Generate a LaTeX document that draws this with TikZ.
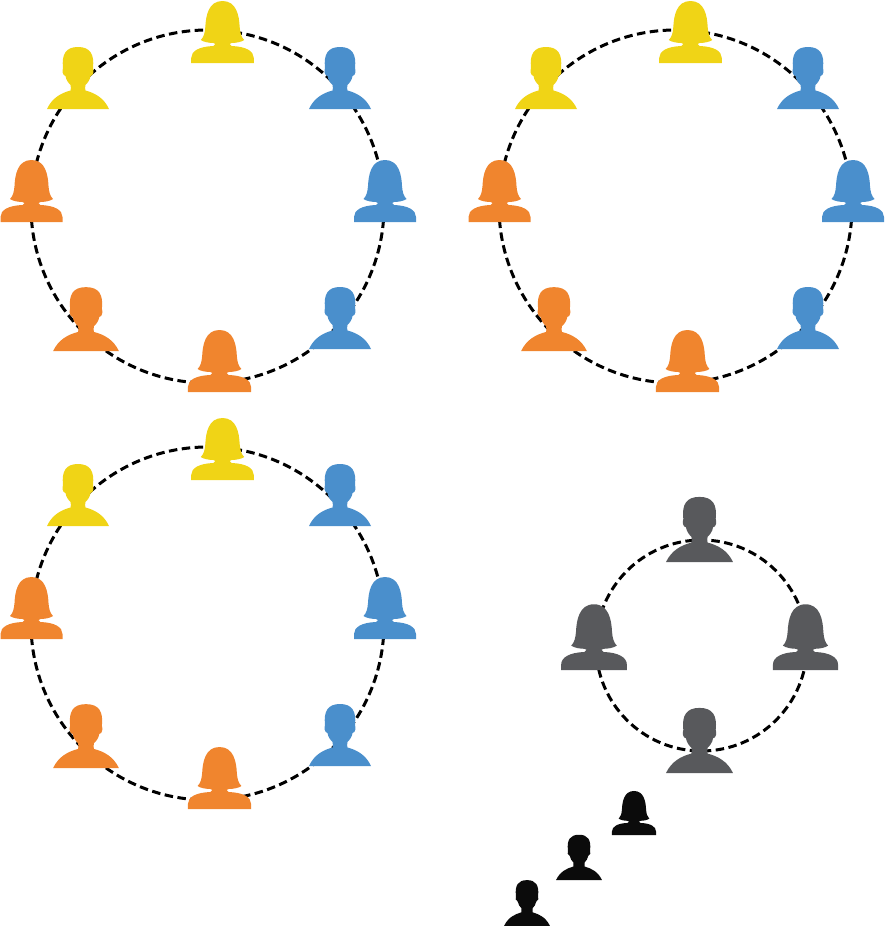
\documentclass[tikz,border=0pt]{standalone}
\definecolor{pyellow}{HTML}{F0D416}
\definecolor{pblue}{HTML}{4A8FCC}
\definecolor{porange}{HTML}{F0852E}
\definecolor{pgrey}{HTML}{58595C}
\definecolor{pblack}{HTML}{0B0B0B}
\tikzset{
  ringline/.style={black,line width=3pt,dash pattern=on 8.5pt off 4.5pt},
  man/.pic={\fill[pic actions]
    (-31,0) .. controls (-26,-11) and (-17,-16) .. (-7.5,-18.5)
    .. controls (-7,-20) and (-7,-22) .. (-7.5,-24)
    .. controls (-9.5,-26) and (-12,-29) .. (-12.5,-33)
    .. controls (-15.5,-33.5) and (-16,-38) .. (-15,-41)
    .. controls (-16.5,-55) and (-12,-62) .. (0,-62)
    .. controls (12,-62) and (16.5,-55) .. (15,-41)
    .. controls (16,-38) and (15.5,-33.5) .. (12.5,-33)
    .. controls (12,-29) and (9.5,-26) .. (7.5,-24)
    .. controls (7,-22) and (7,-20) .. (7.5,-18.5)
    .. controls (17,-16) and (26,-11) .. (31,0) -- cycle;},
  woman/.pic={\fill[pic actions]
    (-31,0) -- (-31,-5) .. controls (-31,-12) and (-23,-16.5) .. (-9,-17)
    -- (-7,-19) -- (-9,-20)
    .. controls (-13,-20) and (-19,-21) .. (-21.5,-23)
    .. controls (-18.5,-26) and (-17.5,-30) .. (-17,-36)
    .. controls (-16.5,-47) and (-14,-62) .. (0,-62)
    .. controls (14,-62) and (16.5,-47) .. (17,-36)
    .. controls (17.5,-30) and (18.5,-26) .. (21.5,-23)
    .. controls (19,-21) and (13,-20) .. (9,-20)
    -- (7,-19) -- (9,-17)
    .. controls (23,-16.5) and (31,-12) .. (31,-5) -- (31,0) -- cycle;}
}
\begin{document}
\begin{tikzpicture}[x=1pt,y=-1pt]
\useasboundingbox (0,0) rectangle (884,926);
\foreach \dx/\dy in {0/0,468/0,0/417}{
  \begin{scope}[shift={(\dx,\dy)}]
    \draw[ringline] (207.5,206.5) circle[radius=176.5];
    \pic[fill=pyellow,xscale=1.01] at (222.5,63) {woman};
    \pic[fill=pyellow] at (78,109) {man};
    \pic[fill=porange] at (31.5,222) {woman};
    \pic[fill=pblue] at (340,109) {man};
    \pic[fill=pblue] at (385,222) {woman};
    \pic[fill=pblue] at (340,349) {man};
    \pic[fill=porange,xscale=1.06,yscale=1.03] at (86,351) {man};
    \pic[fill=porange,xscale=1.02] at (219.5,392) {woman};
  \end{scope}
}
\draw[ringline] (701.5,645.5) circle[radius=105.5];
\pic[fill=pgrey,xscale=1.08,yscale=1.05] at (699.5,562) {man};
\pic[fill=pgrey,xscale=1.06,yscale=1.06] at (594,670) {woman};
\pic[fill=pgrey,xscale=1.05,yscale=1.06] at (805.5,670) {woman};
\pic[fill=pgrey,xscale=1.08,yscale=1.05] at (699.5,773) {man};
\pic[fill=pblack,xscale=.71,yscale=.71] at (634,835) {woman};
\pic[fill=pblack,xscale=.74,yscale=.73] at (579,880) {man};
\pic[fill=pblack,xscale=.74,yscale=.74] at (527,926) {man};
\end{tikzpicture}
\end{document}
